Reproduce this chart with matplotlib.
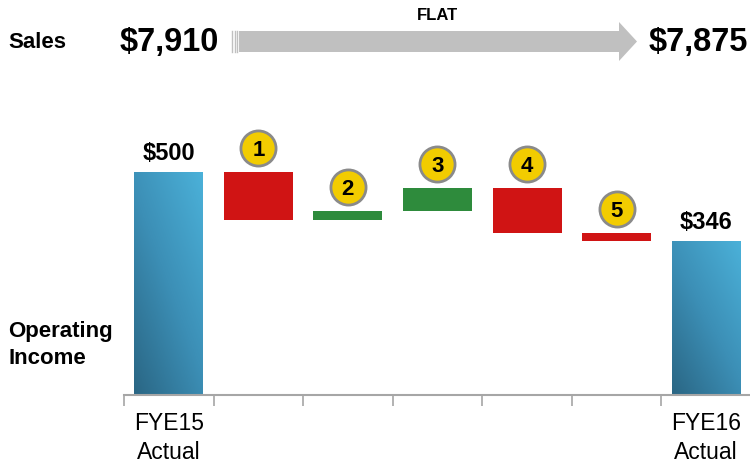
import numpy as np
import matplotlib
matplotlib.use("Agg")
import matplotlib.pyplot as plt
from matplotlib.colors import LinearSegmentedColormap
from matplotlib.patches import Polygon
from matplotlib.transforms import offset_copy

plt.rcParams['font.family'] = ['Liberation Sans', 'DejaVu Sans']

# Operating income bridge, FYE15 -> FYE16
start_value = 500
end_value = 346
steps = [-107, 20, 51, -100, -18]
step_ids = ["1", "2", "3", "4", "5"]
tick_labels = ["FYE15\nActual", "", "", "", "", "", "FYE16\nActual"]

# Sales headline
sales_start = "$7,910"
sales_end = "$7,875"
sales_change = "FLAT"

RED = "#d01414"
GREEN = "#2e8b3c"
YELLOW = "#f2cc00"
blue_cmap = LinearSegmentedColormap.from_list("bar_blue", ["#2a6684", "#3c8fb6", "#4bb1d9"])

fig = plt.figure(figsize=(7.5, 4.67), dpi=100)

# overlay in pixel units for the header text and arrow
ov = fig.add_axes([0, 0, 1, 1])
ov.set_xlim(0, 750)
ov.set_ylim(467, 0)
ov.axis("off")

ax = fig.add_axes([124 / 750, 72 / 467, 627 / 750, 295 / 467])

# running totals for the floating bars
n = len(steps)
levels = np.concatenate([[start_value], start_value + np.cumsum(steps)])
bottoms = np.minimum(levels[:-1], levels[1:])
heights = np.abs(steps)
colors = [GREEN if s > 0 else RED for s in steps]
xs = np.arange(1, n + 1)
width = 0.77

ax.bar(xs, heights, bottom=bottoms, width=width, color=colors, zorder=2)

# total bars with a diagonal gradient fill
yy, xx = np.mgrid[0:1:200j, 0:1:60j]
grad = 0.55 * yy + 0.45 * xx
for x, v in [(0, start_value), (n + 1, end_value)]:
    bar = ax.bar(x, v, width=width, color="none", zorder=2)[0]
    im = ax.imshow(grad, cmap=blue_cmap, origin="lower", aspect="auto",
                   extent=(x - width / 2, x + width / 2, 0, v), zorder=2)
    im.set_clip_path(bar)
    ax.annotate(f"${v}", (x, v), xytext=(0, 5), textcoords="offset points",
                ha="center", va="bottom", fontsize=17, fontweight="bold")

# numbered markers above each step
tops = np.maximum(levels[:-1], levels[1:])
up = offset_copy(ax.transData, fig=fig, y=24, units="dots")
ax.scatter(xs, tops, s=640, color=YELLOW, edgecolor="#8a8a8a", linewidth=2,
           transform=up, zorder=3, clip_on=False)
for x, t, lab in zip(xs, tops, step_ids):
    ax.text(x, t, lab, transform=up, ha="center", va="center_baseline",
            fontsize=16, fontweight="bold", zorder=4)

ax.set_xlim(-0.5, n + 1.5)
ax.set_ylim(0, 661)
for side in ["top", "right", "left"]:
    ax.spines[side].set_visible(False)
ax.spines["bottom"].set_color("#a6a6a6")
ax.spines["bottom"].set_linewidth(1.5)
ax.set_yticks([])
ax.set_xticks(np.arange(n + 2))
ax.set_xticklabels(tick_labels, fontsize=16.5, linespacing=1.35)
ax.tick_params(axis="x", which="major", length=0, pad=12)
ax.set_xticks(np.arange(-0.5, n + 2, 1), minor=True)
ax.tick_params(axis="x", which="minor", length=8, width=1.2, color="#a6a6a6", direction="out")

# header: sales comparison
ov.text(8, 42, "Sales", fontsize=16, fontweight="bold", va="center")
ov.text(120, 42, sales_start, fontsize=23.5, fontweight="bold", va="center")
ov.text(748, 42, sales_end, fontsize=23.5, fontweight="bold", va="center", ha="right")
ov.add_patch(Polygon([(239, 31), (619, 31), (619, 22), (637, 41.5), (619, 61),
                      (619, 52), (239, 52)], closed=True, color="#c0c0c0", lw=0))
for lx in [232, 234.5, 237]:
    ov.plot([lx, lx], [31, 52], color="#c0c0c0", lw=1)
ov.text(437, 16, sales_change, fontsize=12, fontweight="bold", ha="center", va="center")

ov.text(8, 331, "Operating", fontsize=16, fontweight="bold", va="center")
ov.text(8, 358, "Income", fontsize=16, fontweight="bold", va="center")

fig.savefig("out.png", dpi=100)
